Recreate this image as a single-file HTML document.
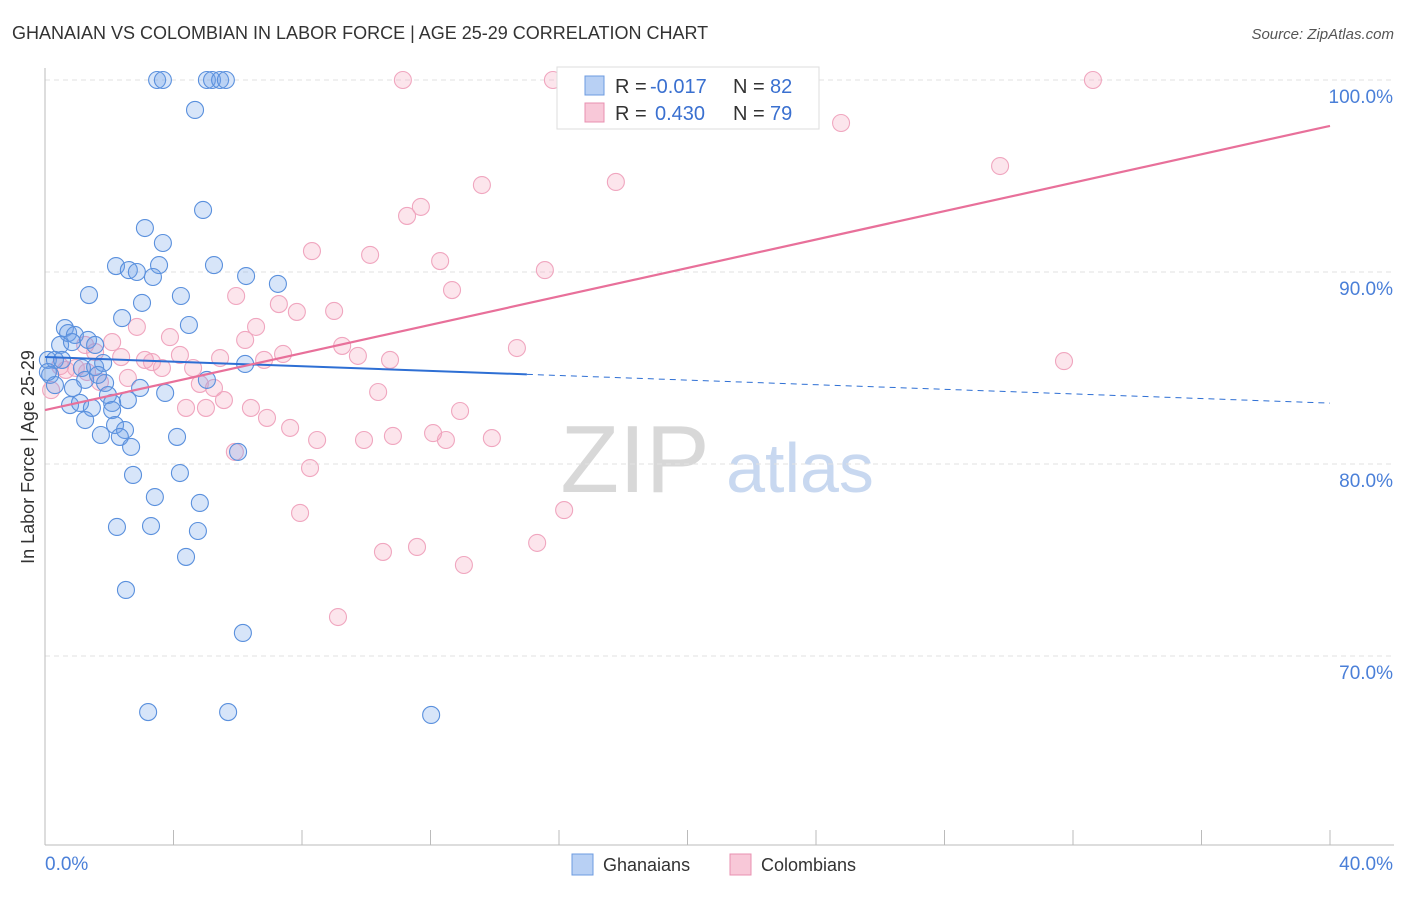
<!DOCTYPE html>
<html><head><meta charset="utf-8"><style>
body{margin:0;background:#fff;font-family:"Liberation Sans",sans-serif;}
svg text{font-family:"Liberation Sans",sans-serif;}
</style></head><body>
<svg width="1406" height="892" xmlns="http://www.w3.org/2000/svg" id="chart">
<text x="12" y="39" font-size="18" fill="#333">GHANAIAN VS COLOMBIAN IN LABOR FORCE | AGE 25-29 CORRELATION CHART</text>
<text x="1394" y="39" font-size="15" fill="#555" text-anchor="end" font-style="italic">Source: ZipAtlas.com</text>
<text x="34" y="457" font-size="18" fill="#333" text-anchor="middle" transform="rotate(-90 34 457)">In Labor Force | Age 25-29</text>
<text x="635" y="492" font-size="96" fill="#d8d8d8" text-anchor="middle" font-family="Liberation Serif">ZIP</text>
<text x="800" y="492" font-size="70" fill="#c8d8f0" text-anchor="middle">atlas</text>
<g id="grid"></g><g id="axes"></g><g id="pts"></g><g id="trend"></g>
<g>
<rect x="557" y="67" width="262" height="62" fill="#fff" stroke="#ddd"/>
<rect x="585" y="76" width="19" height="19" fill="#b8d0f4" stroke="#6c9be0"/>
<rect x="585" y="103" width="19" height="19" fill="#f8c8d8" stroke="#e890b0"/>
<g font-size="20">
<text x="615" y="93" fill="#333">R =</text><text x="650" y="93" fill="#3a70d0">-0.017</text>
<text x="733" y="93" fill="#333">N =</text><text x="770" y="93" fill="#3a70d0">82</text></g>
<g font-size="20">
<text x="615" y="120" fill="#333">R =</text><text x="655" y="120" fill="#3a70d0">0.430</text>
<text x="733" y="120" fill="#333">N =</text><text x="770" y="120" fill="#3a70d0">79</text></g>
</g>
<g>
<rect x="572" y="854" width="21" height="21" fill="#b8d0f4" stroke="#6c9be0"/>
<text x="603" y="871" font-size="18" fill="#333">Ghanaians</text>
<rect x="730" y="854" width="21" height="21" fill="#f8c8d8" stroke="#e890b0"/>
<text x="761" y="871" font-size="18" fill="#333">Colombians</text>
</g>
</svg>
<script>
const blueX=[3.49,3.67,5.04,5.20,5.45,5.63,4.67,4.92,3.11,3.67,2.21,2.61,2.86,3.55,5.26,6.26,3.36,7.25,1.37,4.23,3.02,2.40,4.48,0.62,0.72,0.47,0.93,1.34,1.56,0.84,0.09,0.31,0.53,0.16,0.31,1.15,1.56,1.81,0.09,6.23,5.04,1.87,1.25,1.65,0.87,1.96,2.96,3.74,2.58,2.09,0.78,1.09,1.46,2.09,1.25,2.18,2.49,1.74,2.33,4.11,2.68,6.01,2.74,4.20,3.42,4.82,2.24,3.30,4.76,4.39,2.52,6.16,3.21,5.70,12.02];
const blueY=[100,100,100,100,100,100,98.44,93.23,92.29,91.51,90.31,90.10,90.0,90.36,90.36,89.79,89.74,89.38,88.80,88.75,88.39,87.60,87.24,87.08,86.82,86.20,86.72,86.46,86.20,86.35,85.42,85.42,85.42,84.64,84.11,85.0,85.05,85.26,84.79,85.21,84.38,84.22,84.38,84.64,83.96,83.59,83.96,83.70,83.33,83.18,83.07,83.18,82.92,82.81,82.29,82.03,81.77,81.51,81.41,81.41,80.89,80.63,79.43,79.53,78.28,77.97,76.72,76.77,76.51,75.16,73.44,71.20,67.08,67.08,66.93];
const pinkX=[11.14,15.81,22.32,32.62,24.78,29.73,17.77,13.60,11.70,11.27,8.31,10.12,12.30,15.56,12.67,5.95,7.28,7.84,9.00,2.86,6.57,3.89,6.23,1.25,2.09,9.25,4.20,9.74,10.74,14.69,31.72,5.45,6.82,7.41,3.11,3.33,2.37,1.56,0.47,0.65,0.96,1.31,4.61,3.64,1.71,2.58,0.19,10.37,4.82,5.26,5.57,4.39,5.01,6.41,6.91,12.92,7.63,8.47,9.93,10.83,12.08,12.48,13.91,5.91,8.25,7.94,16.16,15.32,10.52,11.58,13.04,9.12];
const pinkY=[100,100,100,100,97.76,95.52,94.69,94.53,93.39,92.92,91.09,90.89,90.57,90.10,89.06,88.75,88.33,87.92,87.97,87.14,87.14,86.61,86.46,86.20,86.35,86.15,85.68,85.63,85.42,86.04,85.36,85.52,85.42,85.73,85.42,85.31,85.57,85.83,85.10,84.90,85.0,84.79,85.0,85.0,84.27,84.48,83.85,83.75,84.17,83.96,83.33,82.92,82.92,82.92,82.40,82.76,81.88,81.25,81.25,81.46,81.61,81.25,81.35,80.63,79.79,77.45,77.60,75.89,75.42,75.68,74.74,72.03];
const yTicks=[100,90,80,70];
const yTickLabels=["100.0%","90.0%","80.0%","70.0%"];
const xTicks=[0,4,8,12,16,20,24,28,32,36,40];
const blueTrend=[85.57,-0.06]; // intercept, slope
const pinkTrend=[82.81,0.37];
const NS="http://www.w3.org/2000/svg";
const sx=v=>45+v*1285/40, sy=v=>80+(100-v)*19.2;
function mk(t,a,p){const e=document.createElementNS(NS,t);for(const k in a)e.setAttribute(k,a[k]);p.appendChild(e);return e;}
const grid=document.getElementById('grid'),axes=document.getElementById('axes'),pts=document.getElementById('pts'),tr=document.getElementById('trend');
yTicks.forEach((v,i)=>{
 const l=mk('line',{x1:45,x2:1394,y1:sy(v),y2:sy(v),stroke:'#e2e2e2','stroke-dasharray':'5,4'},grid);
 
 
 const t=mk('text',{x:1393,y:sy(v)+23,'font-size':19,fill:'#4a7fd8','text-anchor':'end'},axes);t.textContent=yTickLabels[i];
 
 
});
const ax=mk('line',{x1:45,x2:45,y1:68,y2:845,stroke:'#bbb'},axes);


const xa=mk('line',{x1:45,x2:1394,y1:845,y2:845,stroke:'#bbb'},axes);


xTicks.forEach(v=>{const t=mk('line',{x1:sx(v),x2:sx(v),y1:830,y2:845,stroke:'#bbb'},axes);
 
 });
[[0,"0.0%","start",45],[40,"40.0%","end",1393]].forEach(d=>{const t=mk('text',{x:d[3],y:870,'font-size':19,fill:'#4a7fd8','text-anchor':d[2]},axes);t.textContent=d[1];
 
 });
pinkX.forEach((x,i)=>{const c=mk('circle',{cx:sx(x),cy:sy(pinkY[i]),r:8.5,fill:'rgba(244,160,188,0.28)',stroke:'#f0a6bf','stroke-width':1.1},pts);
 
 });
blueX.forEach((x,i)=>{const c=mk('circle',{cx:sx(x),cy:sy(blueY[i]),r:8.5,fill:'rgba(110,160,235,0.28)',stroke:'#5a90dd','stroke-width':1.1},pts);
 
 });
const f=(t,x)=>t[0]+t[1]*x;
let l1=mk('line',{x1:sx(0),y1:sy(f(blueTrend,0)),x2:sx(15),y2:sy(f(blueTrend,15)),stroke:'#2e6fd4','stroke-width':2},tr);


let l2=mk('line',{x1:sx(15),y1:sy(f(blueTrend,15)),x2:sx(40),y2:sy(f(blueTrend,40)),stroke:'#2e6fd4','stroke-width':1,'stroke-dasharray':'6,5'},tr);


let l3=mk('line',{x1:sx(0),y1:sy(f(pinkTrend,0)),x2:sx(40),y2:sy(f(pinkTrend,40)),stroke:'#e8709a','stroke-width':2.2},tr);


</script>
</body></html>
